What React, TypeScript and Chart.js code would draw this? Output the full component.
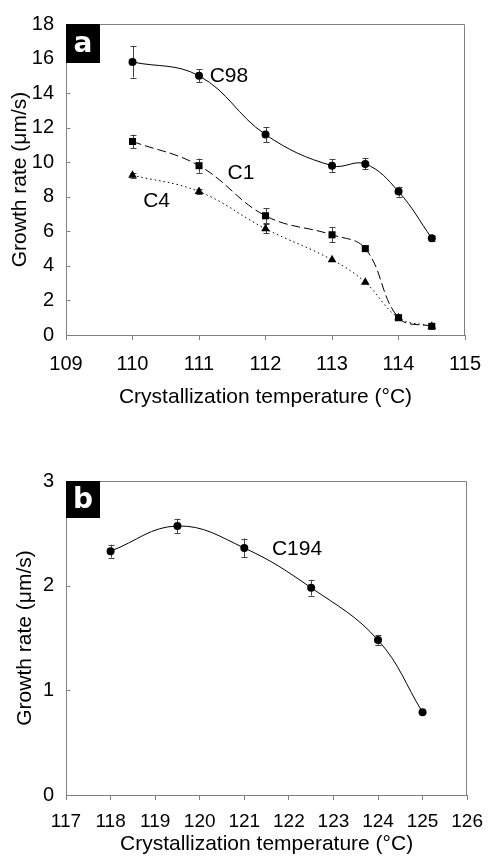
import React, { useEffect, useRef } from "react";
import { Chart, registerables } from "chart.js";

Chart.register(...registerables);
Chart.defaults.color = "#000";

// ---------- Data: panel a ----------
const tempsA = [110, 111, 112, 113, 113.5, 114, 114.5];
const c98 = [15.8, 15.0, 11.6, 9.8, 9.9, 8.3, 5.6];
const c98Err = [0.9, 0.38, 0.43, 0.38, 0.32, 0.29, 0.15];
const c1 = [11.2, 9.8, 6.9, 5.8, 5.0, 1.0, 0.5];
const c1Err = [0.4, 0.41, 0.44, 0.43, 0, 0, 0];
const c4 = [9.25, 8.3, 6.15, 4.35, 3.05, 1.0, 0.5];
const c4Err = [0.15, 0.15, 0.25, 0, 0, 0, 0];
const seriesLabelsA = [
  { text: "C98", x: 111.16, y: 15.0 },
  { text: "C1", x: 111.43, y: 9.36 },
  { text: "C4", x: 110.16, y: 7.74 },
];

// ---------- Data: panel b ----------
const tempsB = [118, 119.5, 121, 122.5, 124, 125];
const c194 = [2.33, 2.57, 2.36, 1.98, 1.48, 0.79];
const c194Err = [0.062, 0.07, 0.09, 0.075, 0.05, 0];
const seriesLabelsB = [{ text: "C194", x: 121.62, y: 2.35 }];

const xTitle = "Crystallization temperature (°C)";
const yTitle = "Growth rate (μm/s)";

const FONT = "'Liberation Sans', Arial, sans-serif";
const GREY = "#808080";

const pts = (xs: number[], ys: number[]) => xs.map((x, i) => ({ x, y: ys[i] }));

const decorPlugin = {
  id: "decor",
  beforeDatasetsDraw(chart: any, _a: any, opts: any) {
    const { ctx, chartArea } = chart;
    const xs = chart.scales.x;
    const ys = chart.scales.y;
    ctx.save();
    // top & right frame
    ctx.strokeStyle = GREY;
    ctx.lineWidth = 1;
    ctx.beginPath();
    const t = Math.round(chartArea.top) + 0.5;
    const r = Math.round(chartArea.right) - 0.5;
    const l = Math.round(chartArea.left) + 0.5;
    ctx.moveTo(l, t);
    ctx.lineTo(r, t);
    ctx.lineTo(r, Math.round(chartArea.bottom));
    ctx.stroke();
    // inward y ticks
    ctx.beginPath();
    ys.ticks.forEach((tk: any) => {
      const py = Math.round(ys.getPixelForValue(tk.value)) + 0.5;
      ctx.moveTo(l, py);
      ctx.lineTo(l + 4, py);
    });
    ctx.stroke();
    // error bars
    ctx.strokeStyle = "#444";
    chart.data.datasets.forEach((ds: any) => {
      const errs: number[] = ds.errors || [];
      ds.data.forEach((p: any, i: number) => {
        const e = errs[i];
        if (!e) return;
        const px = Math.round(xs.getPixelForValue(p.x)) + 0.5;
        const y1 = ys.getPixelForValue(p.y + e);
        const y2 = ys.getPixelForValue(p.y - e);
        ctx.beginPath();
        ctx.moveTo(px, y1);
        ctx.lineTo(px, y2);
        ctx.moveTo(px - 3, Math.round(y1) + 0.5);
        ctx.lineTo(px + 3, Math.round(y1) + 0.5);
        ctx.moveTo(px - 3, Math.round(y2) + 0.5);
        ctx.lineTo(px + 3, Math.round(y2) + 0.5);
        ctx.stroke();
      });
    });
    ctx.restore();
  },
  afterDraw(chart: any, _a: any, opts: any) {
    const { ctx, chartArea } = chart;
    const xs = chart.scales.x;
    const ys = chart.scales.y;
    ctx.save();
    // series labels
    ctx.fillStyle = "#000";
    ctx.font = `21px ${FONT}`;
    ctx.textAlign = "left";
    ctx.textBaseline = "middle";
    (opts.labels || []).forEach((lb: any) => {
      ctx.fillText(lb.text, xs.getPixelForValue(lb.x), ys.getPixelForValue(lb.y));
    });
    // panel letter box
    ctx.fillStyle = "#000";
    ctx.fillRect(chartArea.left, chartArea.top, 34, opts.boxH);
    ctx.fillStyle = "#fff";
    ctx.font = `bold 28px 'DejaVu Sans', sans-serif`;
    ctx.textAlign = "center";
    ctx.textBaseline = "middle";
    ctx.fillText(opts.letter, chartArea.left + 17, chartArea.top + opts.boxH / 2 + 1);
    ctx.restore();
  },
};

function makeConfig(p: any) {
  return {
    type: "scatter",
    data: { datasets: p.datasets },
    plugins: [decorPlugin],
    options: {
      responsive: false,
      animation: false,
      devicePixelRatio: 1,
      layout: { padding: { top: p.padTop, right: p.padRight, left: 0, bottom: 0 } },
      plugins: {
        legend: { display: false },
        tooltip: { enabled: false },
        decor: { labels: p.labels, letter: p.letter, boxH: p.boxH },
      },
      scales: {
        x: {
          type: "linear",
          min: p.xMin,
          max: p.xMax,
          afterFit: (s: any) => {
            s.height = p.xHeight;
          },
          ticks: { stepSize: 1, font: { family: FONT, size: p.xTickSize }, color: "#000", padding: p.xTickPad },
          grid: { drawOnChartArea: false, drawTicks: true, tickLength: 5, color: GREY },
          border: { display: true, color: GREY, width: 1 },
          title: {
            display: true,
            text: xTitle,
            color: "#000",
            font: { family: FONT, size: 21 },
            padding: { top: 0, bottom: p.xTitlePad },
          },
        },
        y: {
          type: "linear",
          min: p.yMin,
          max: p.yMax,
          afterFit: (s: any) => {
            s.width = 66;
          },
          ticks: { stepSize: p.yStep, font: { family: FONT, size: 20 }, color: "#000", padding: 12 },
          grid: { display: false, drawTicks: false },
          border: { display: true, color: GREY, width: 1 },
          title: {
            display: true,
            text: yTitle,
            color: "#000",
            font: { family: FONT, size: 21 },
            padding: { top: p.yTitlePad, bottom: 0 },
          },
        },
      },
    },
  };
}

const lineDs = (label: string, xs: number[], ys: number[], errs: number[], style: string, radius: number, dash: number[]) => ({
  label,
  data: pts(xs, ys),
  errors: errs,
  showLine: true,
  borderColor: "#000",
  borderWidth: 1,
  borderDash: dash,
  tension: 0.4,
  pointStyle: style,
  pointRadius: radius,
  pointBackgroundColor: "#000",
  pointBorderColor: "#000",
  pointBorderWidth: 0,
});

function ChartCanvas({ config, width, height, top }: any) {
  const ref = useRef<HTMLCanvasElement>(null);
  useEffect(() => {
    if (!ref.current) return;
    const c = new Chart(ref.current, config);
    return () => c.destroy();
  }, []);
  return (
    <canvas
      ref={ref}
      width={width}
      height={height}
      style={{ position: "absolute", left: 0, top, width, height }}
    />
  );
}

export default function App() {
  const configA = makeConfig({
    datasets: [
      lineDs("C98", tempsA, c98, c98Err, "circle", 4, []),
      lineDs("C1", tempsA, c1, c1Err, "rect", 5, [9, 4]),
      lineDs("C4", tempsA, c4, c4Err, "triangle", 5, [1.5, 3]),
    ],
    labels: seriesLabelsA,
    letter: "a",
    boxH: 39,
    padTop: 21,
    padRight: 19,
    xMin: 109,
    xMax: 115,
    yMin: 0,
    yMax: 18,
    yStep: 2,
    xHeight: 85,
    xTickPad: 12,
    xTickSize: 20,
    xTitlePad: 10,
    yTitlePad: 8,
  });
  const configB = makeConfig({
    datasets: [lineDs("C194", tempsB, c194, c194Err, "circle", 4, [])],
    labels: seriesLabelsB,
    letter: "b",
    boxH: 37,
    padTop: 41,
    padRight: 20,
    xMin: 117,
    xMax: 126,
    yMin: 0,
    yMax: 3,
    yStep: 1,
    xHeight: 67,
    xTickPad: 10,
    xTickSize: 19,
    xTitlePad: 5,
    yTitlePad: 13,
  });
  return (
    <div style={{ position: "absolute", left: 0, top: 0, width: 493, height: 862, background: "#fff" }}>
      <ChartCanvas config={configA} width={493} height={420} top={0} />
      <ChartCanvas config={configB} width={493} height={422} top={440} />
    </div>
  );
}
